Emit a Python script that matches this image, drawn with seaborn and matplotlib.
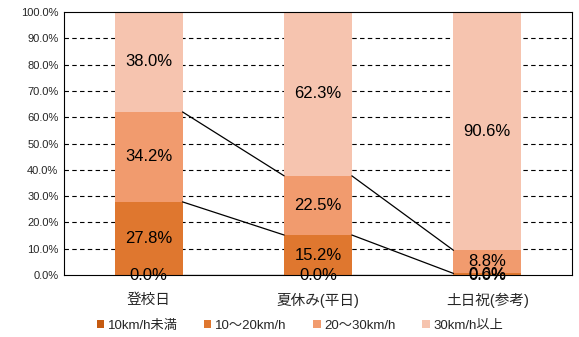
import matplotlib
matplotlib.use("Agg")
import matplotlib.pyplot as plt
import seaborn as sns
import numpy as np
import pandas as pd
from matplotlib.patches import Patch

categories = ["登校日", "夏休み(平日)", "土日祝(参考)"]
series_names = ["10km/h未満", "10～20km/h", "20～30km/h", "30km/h以上"]
s_lt10 = [0.0, 0.0, 0.0]
s_10_20 = [27.8, 15.2, 0.6]
s_20_30 = [34.2, 22.5, 8.8]
s_30p = [38.0, 62.3, 90.6]
colors = ["#C55A11", "#DF772F", "#F19B6E", "#F6C4AF"]
yticks = [0, 10, 20, 30, 40, 50, 60, 70, 80, 90, 100]

sns.set_style("white")
plt.rcParams['font.family'] = ['Liberation Sans', 'Noto Sans CJK JP', 'DejaVu Sans']

values = [s_lt10, s_10_20, s_20_30, s_30p]
cum = np.cumsum(np.array(values), axis=0)  # shape (4, 3)

fig = plt.figure(figsize=(5.79, 3.37), dpi=100)
ax = fig.add_axes([64/579, 1-275/337, (572-64)/579, (275-12)/337])

# draw from the top series down so lower segments overlap
for i in range(3, -1, -1):
    df = pd.DataFrame({"cat": categories, "val": cum[i]})
    sns.barplot(data=df, x="cat", y="val", color=colors[i], width=0.4,
                saturation=1, ax=ax, zorder=2, edgecolor="none", linewidth=0)

# series lines
for i in range(3):
    for j in range(len(categories) - 1):
        ax.plot([j + 0.2, j + 1 - 0.2], [cum[i][j], cum[i][j + 1]],
                color="black", lw=0.9, zorder=3)

# labels
for i in range(4):
    for j in range(len(categories)):
        bottom = cum[i][j] - values[i][j]
        ax.text(j, bottom + values[i][j] / 2, f"{values[i][j]:.1f}%",
                ha="center", va="center", fontsize=12, color="black", zorder=4)

ax.set_ylim(0, 100)
ax.set_xlim(-0.5, 2.5)
ax.set_yticks(yticks)
ax.set_yticklabels([f"{v:.1f}%" for v in yticks], fontsize=8)
ax.tick_params(axis="y", length=0, pad=4)
ax.tick_params(axis="x", length=0, pad=13, labelsize=10.5)
for v in yticks[1:-1]:
    ax.axhline(v, color="black", lw=0.8, ls=(0, (4, 3)), zorder=1)
ax.set_xlabel("")
ax.set_ylabel("")
for sp in ax.spines.values():
    sp.set_visible(True)
    sp.set_color("black")
    sp.set_linewidth(0.8)

handles = [Patch(facecolor=c, edgecolor="none") for c in colors]
fig.legend(handles, series_names, loc="center", bbox_to_anchor=(300/579, 1-326/337),
           ncol=4, frameon=False, fontsize=9.5, handlelength=0.55, handleheight=0.55,
           handletextpad=0.3, columnspacing=2.0)

fig.savefig("out.png", dpi=100)
